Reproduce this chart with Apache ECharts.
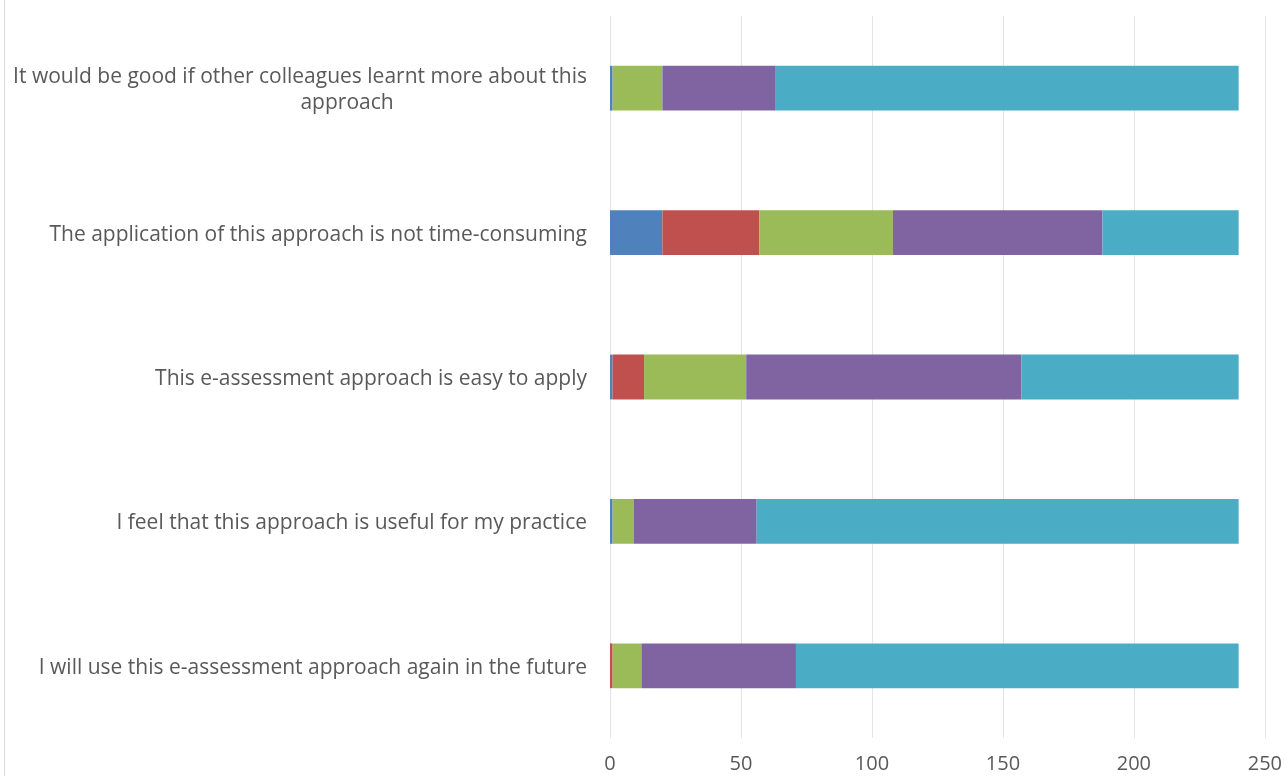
<!DOCTYPE html>
<html>
<head>
<meta charset="utf-8">
<title>Stacked bar chart</title>
<script src="https://cdn.jsdelivr.net/npm/echarts@6/dist/echarts.min.js"></script>
<style>
  html, body { margin: 0; padding: 0; background: #ffffff; }
  #chart { width: 1285px; height: 776px; }
</style>
</head>
<body>
<div id="chart"></div>
<script>
// Statements, listed from bottom to top of the chart
const categories = [
  'I will use this e-assessment approach again in the future',
  'I feel that this approach is useful for my practice',
  'This e-assessment approach is easy to apply',
  'The application of this approach is not time-consuming',
  'It would be good if other colleagues learnt more about this\napproach'
];

// Response counts per statement (same order as categories)
const stronglyDisagree = [0, 1, 1, 20, 1];
const disagree         = [1, 0, 12, 37, 0];
const neutral          = [11, 8, 39, 51, 19];
const agree            = [59, 47, 105, 80, 43];
const stronglyAgree    = [169, 184, 83, 52, 177];

const xTicks = [0, 50, 100, 150, 200, 250];

const seriesDefs = [
  { name: 'Strongly disagree', data: stronglyDisagree, color: '#4f81bd' },
  { name: 'Disagree',          data: disagree,         color: '#c0504d' },
  { name: 'Neutral',           data: neutral,          color: '#9bbb59' },
  { name: 'Agree',             data: agree,            color: '#8064a2' },
  { name: 'Strongly agree',    data: stronglyAgree,    color: '#4bacc6' }
];

const chart = echarts.init(document.getElementById('chart'), null, { renderer: 'canvas' });

const labelFont = '"Open Sans", "Noto Sans", sans-serif';

chart.setOption({
  animation: false,
  backgroundColor: '#ffffff',
  grid: { left: 610, right: 20, top: 16, bottom: 38, containLabel: false },
  xAxis: {
    type: 'value',
    min: xTicks[0],
    max: xTicks[xTicks.length - 1],
    interval: xTicks[1] - xTicks[0],
    axisLine: { show: false },
    axisTick: { show: false },
    splitLine: { show: true, lineStyle: { color: '#e4e4e4', width: 1 } },
    axisLabel: {
      color: '#595959',
      fontFamily: labelFont,
      fontSize: 20,
      margin: 16
    }
  },
  yAxis: {
    type: 'category',
    data: categories,
    axisLine: { show: false },
    axisTick: { show: false },
    splitLine: { show: false },
    axisLabel: {
      color: '#595959',
      fontFamily: labelFont,
      fontSize: 21,
      margin: 23,
      lineHeight: 26,
      padding: [4, 0, 0, 0],
      // first line spans the block; wrapped lines sit a little right of centre
      formatter: function (v) {
        return v.split('\n').map(function (s, i) {
          return (i === 0 ? '{c|' : '{w|') + s + '}';
        }).join('\n');
      },
      rich: {
        c: {
          color: '#595959',
          fontFamily: labelFont,
          fontSize: 21,
          lineHeight: 26,
          align: 'center'
        },
        w: {
          color: '#595959',
          fontFamily: labelFont,
          fontSize: 21,
          lineHeight: 26,
          align: 'center',
          padding: [0, 0, 0, 94]
        }
      }
    }
  },
  series: seriesDefs.map(function (s) {
    return {
      name: s.name,
      type: 'bar',
      stack: 'total',
      barWidth: '31%',
      data: s.data,
      itemStyle: { color: s.color },
      emphasis: { disabled: true }
    };
  }),
  graphic: [
    {
      type: 'line',
      shape: { x1: 4.5, y1: 0, x2: 4.5, y2: 776 },
      style: { stroke: '#d9d9d9', lineWidth: 1 },
      silent: true
    }
  ]
});
</script>
</body>
</html>
